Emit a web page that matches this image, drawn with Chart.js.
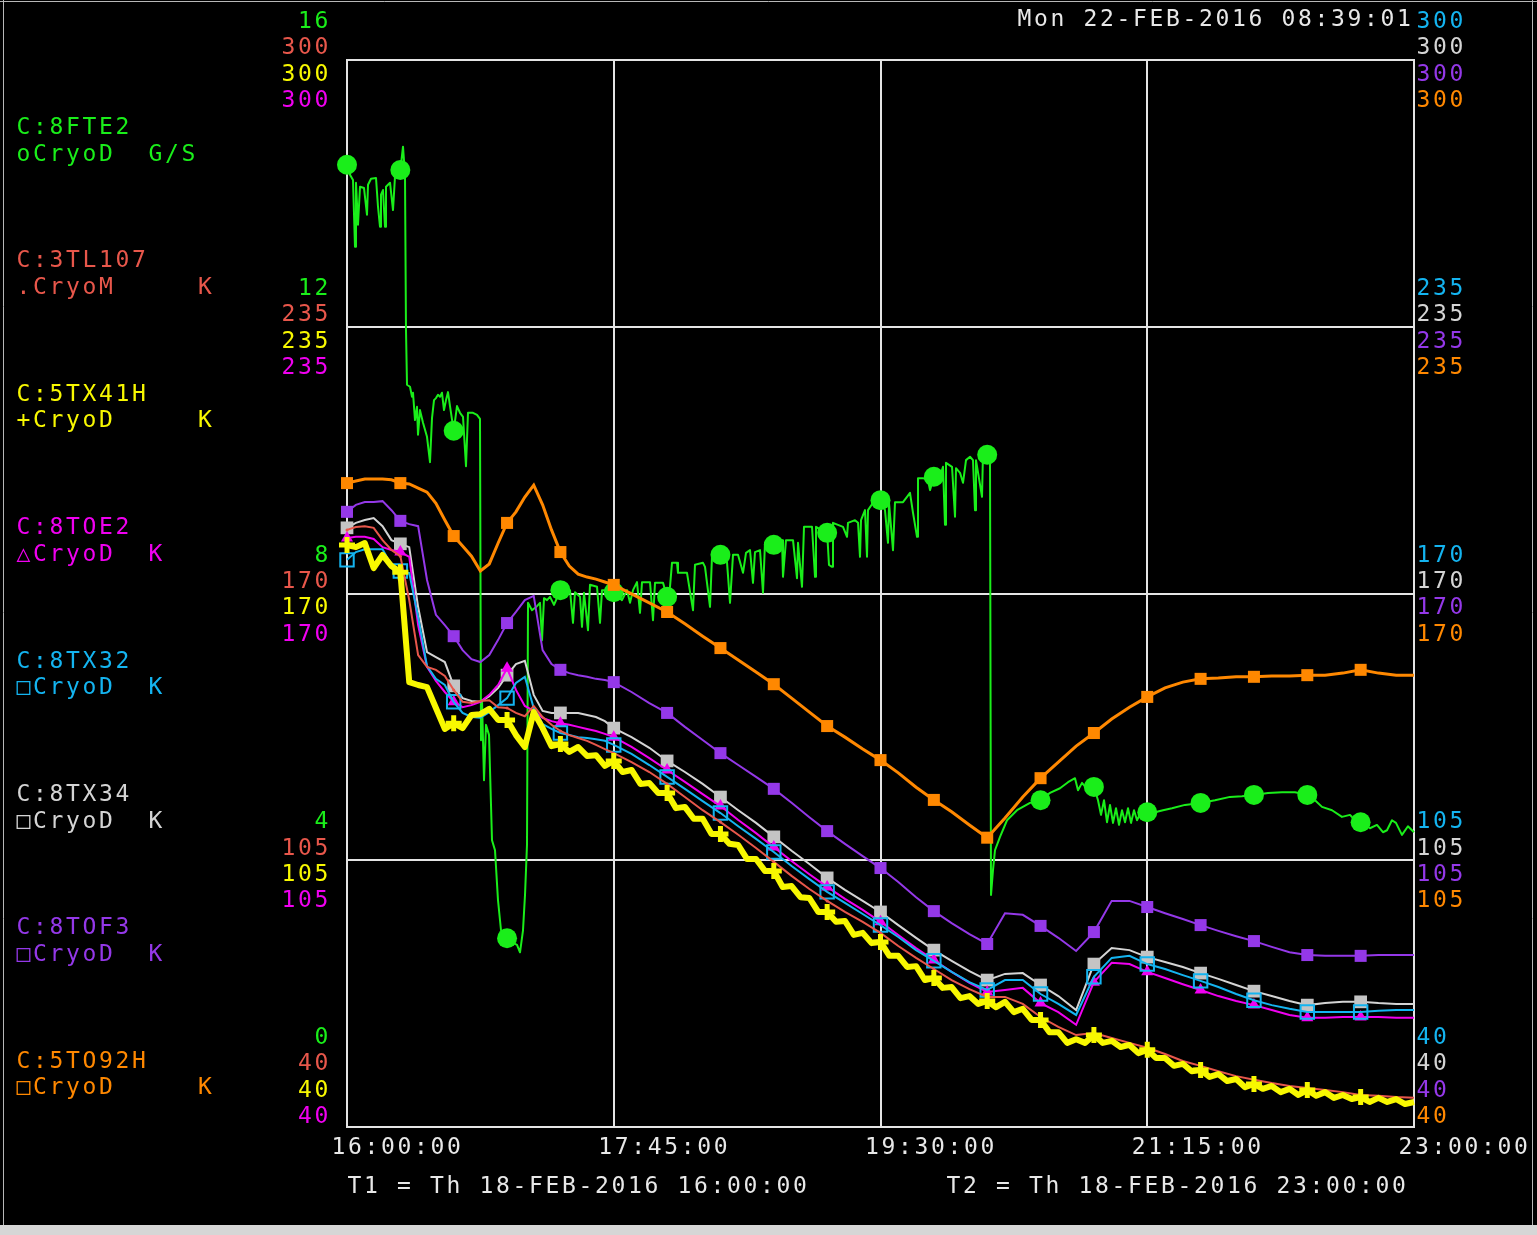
<!DOCTYPE html>
<html>
<head>
<meta charset="utf-8">
<title>CryoD plot 18-FEB-2016</title>
<script src="https://cdn.jsdelivr.net/npm/chart.js"></script>
<style>
  html, body { margin: 0; padding: 0; background: #000; }
  canvas { display: block; }
</style>
</head>
<body>
<canvas id="plot" width="1537" height="1235"></canvas>
<script>
// x axis = minutes after T1 (16:00:00)
const timeTicks = [0, 105, 210, 315, 420];
const timeLabels = ["16:00:00", "17:45:00", "19:30:00", "21:15:00", "23:00:00"];
const flowTicks = [0, 4, 8, 12, 16];
const tempTicks = [40, 105, 170, 235, 300];

const plotDate = "Mon 22-FEB-2016 08:39:01";
const t1Text = "T1 = Th 18-FEB-2016 16:00:00";
const t2Text = "T2 = Th 18-FEB-2016 23:00:00";

const channels = ["C:8FTE2", "C:3TL107", "C:5TX41H", "C:8TOE2", "C:8TX32", "C:8TX34", "C:8TOF3", "C:5TO92H"];
const channelInfo = ["oCryoD  G/S", ".CryoM     K", "+CryoD     K", "△CryoD  K", "□CryoD  K", "□CryoD  K", "□CryoD  K", "□CryoD     K"];
const colors = ["#1aee1a", "#e8574b", "#f8f800", "#f000f0", "#14b4f0", "#d4d4d4", "#9438e8", "#ff8800"];

// sample times (min) for the smooth temperature channels
const times = [0, 3.5, 7, 10.5, 14, 17.5, 21, 24.5, 28, 31.5, 35, 38.5, 42, 45.5, 49, 52.5, 56, 59.5, 63, 66.5,
  70, 73.5, 77, 80.5, 84, 87.5, 91, 94.5, 98, 101.5, 105,
  112, 119, 126, 133, 140, 147, 154, 161, 168, 175, 182, 189, 196, 203, 210, 217, 224, 231, 238,
  245, 252, 259, 266, 273, 280, 287, 294, 301, 308, 315, 322, 329, 336, 343, 350, 357, 364, 371, 378,
  385, 392, 399, 406, 413, 420];

// the noisy 5TX41H channel is read every 3.5 min
const fineTimes = [0, 3.5, 7, 10.5, 14, 17.5, 21, 24.5, 28, 31.5, 35, 38.5, 42, 45.5, 49, 52.5, 56, 59.5, 63, 66.5,
  70, 73.5, 77, 80.5, 84, 87.5, 91, 94.5, 98, 101.5, 105, 108.5, 112, 115.5, 119, 122.5, 126, 129.5, 133, 136.5,
  140, 143.5, 147, 150.5, 154, 157.5, 161, 164.5, 168, 171.5, 175, 178.5, 182, 185.5, 189, 192.5, 196, 199.5, 203, 206.5,
  210, 213.5, 217, 220.5, 224, 227.5, 231, 234.5, 238, 241.5, 245, 248.5, 252, 255.5, 259, 262.5, 266, 269.5, 273, 276.5,
  280, 283.5, 287, 290.5, 294, 297.5, 301, 304.5, 308, 311.5, 315, 318.5, 322, 325.5, 329, 332.5, 336, 339.5, 343, 346.5,
  350, 353.5, 357, 360.5, 364, 367.5, 371, 374.5, 378, 381.5, 385, 388.5, 392, 395.5, 399, 402.5, 406, 409.5, 413, 416.5, 420];

// C:8FTE2 flow, G/S  [minute, value]
const fte2 = [[0,14.43],[1.18,14.28],[2.36,14.20],[3.15,13.20],[3.54,14.16],[4.33,13.53],[5.12,14.10],[6.69,14.08],
  [7.87,13.68],[8.27,14.13],[9.45,14.22],[11.42,14.23],[12.20,13.80],[12.99,13.50],[13.38,13.98],[14.17,14.05],
  [14.96,13.50],[15.35,14.10],[16.93,14.16],[18.11,13.75],[18.89,14.25],[21,14.35],[22.04,14.70],[22.83,14.28],
  [23.22,11.95],[23.62,11.13],[24.80,11.10],[25.59,10.95],[25.98,11.01],[26.77,10.60],[27.55,10.80],[27.95,10.38],
  [28.73,10.75],[29.92,10.56],[31.49,10.35],[32.67,9.97],[33.46,10.63],[34.25,10.90],[35.03,10.93],[35.82,10.98],
  [36.61,10.95],[37.39,11.01],[38.18,10.75],[38.97,10.90],[39.76,11.02],[40.54,10.81],[42,10.44],[43.30,10.81],
  [44.48,10.71],[45.66,10.65],[46.84,9.91],[47.63,10.71],[49.60,10.71],[51.17,10.68],[52.35,10.62],[52.75,5.80],
  [53.14,6.40],[53.93,5.20],[54.71,6.03],[55.90,5.88],[57.08,4.30],[58.26,4.15],[59.44,3.40],[60.62,2.95],
  [63,2.83],[64.95,2.77],[66.92,2.73],[68.10,2.62],[69.28,2.95],[70.07,3.48],[70.85,4.23],[71.25,7.86],
  [72.82,7.75],[74.79,7.81],[75.97,7.86],[76.76,7.30],[77.55,7.93],[78.73,7.90],[79.91,7.95],[81.48,7.83],
  [84,8.05],[87.78,8.05],[88.96,7.56],[89.75,8.02],[91.72,7.95],[92.50,7.50],[93.29,8.01],[94.86,7.45],
  [95.65,8.13],[98.41,8.10],[99.59,7.56],[100.38,8.05],[103.52,8.05],[105,8.02],[108.25,7.90],[110.22,8.05],
  [111.40,7.86],[112.58,8.05],[114.15,8.17],[115.33,7.71],[116.12,8.17],[119.27,8.17],[120.45,7.60],[121.24,8.16],
  [124.39,8.16],[126,7.95],[127.14,8.10],[127.93,8.46],[129.90,8.46],[130.29,8.31],[133.83,8.31],[136.20,7.75],
  [136.98,8.43],[140.13,8.46],[140.92,8.40],[141.71,8.16],[142.89,7.80],[143.67,8.55],[147,8.58],[149.58,8.47],
  [150.76,7.86],[151.94,8.58],[153.91,8.58],[155.88,8.31],[157.06,8.61],[158.63,8.65],[159.81,8.16],[160.60,8.62],
  [162.57,8.65],[163.75,8.01],[164.54,8.76],[168,8.73],[171.23,8.80],[171.62,8.25],[172.80,8.80],[175.56,8.80],
  [177.13,8.23],[177.53,8.76],[179.10,8.10],[179.89,9.00],[183.04,9.00],[184.22,8.25],[184.61,9.00],[186.97,8.95],
  [189,8.91],[189.73,8.43],[190.91,8.40],[191.30,9.06],[195.24,9.00],[196.82,8.85],[197.21,9.06],[199.96,9.10],
  [201.15,9.06],[201.93,8.55],[202.33,9.10],[203.90,9.25],[204.69,8.55],[205.08,9.25],[207.05,9.36],[210,9.40],
  [211.77,9.25],[212.95,8.76],[213.35,9.36],[214.92,8.65],[215.71,9.37],[218.86,9.37],[220.43,9.45],[221.61,9.51],
  [222.80,9.21],[224.37,8.85],[224.76,9.73],[226.73,9.73],[228.70,9.70],[229.49,9.55],[231,9.75],[233.42,9.75],
  [234.60,9.90],[235.39,9.03],[235.78,9.96],[238.15,9.90],[239.33,9.15],[239.72,9.88],[241.30,9.81],[242.48,9.66],
  [243.66,10.00],[245.23,10.05],[246.41,10.00],[247.20,9.25],[247.59,10.00],[249.96,9.45],[250.35,10.11],[252,10.08],
  [253.10,10.08],[253.50,3.48],[254.28,3.85],[255.07,4.15],[257.04,4.35],[259.80,4.60],[263.73,4.75],[268.85,4.86],
  [273,4.90],[276.72,5.01],[280.66,5.08],[283.81,5.17],[286.56,5.23],[287.74,5.05],[289.32,5.16],[291.68,5.05],
  [294,5.10],[295.62,4.90],[296.80,4.68],[297.98,4.90],[299.16,4.57],[300.34,4.83],[301.52,4.56],[302.70,4.78],
  [303.88,4.53],[305.06,4.75],[306.25,4.57],[307.43,4.78],[308.61,4.56],[309.79,4.75],[310.97,4.60],[312.54,4.72],
  [315,4.72],[318.05,4.72],[321.20,4.75],[324.74,4.78],[329.86,4.83],[336,4.86],[341.67,4.90],[347.58,4.95],
  [352.30,4.96],[357,4.98],[362.53,5.01],[368.04,5.02],[373.16,5.02],[378,4.98],[381.03,4.90],[383.79,4.80],
  [387.73,4.75],[391.66,4.65],[394.81,4.68],[396.78,4.60],[399,4.57],[402.66,4.48],[405.42,4.53],[407.78,4.42],
  [409.36,4.45],[411.33,4.60],[412.90,4.56],[415.26,4.38],[417.62,4.51],[420,4.42]];

// temperatures, K (one value per entry of times)
const tl107 = [185.5,186.2,186.4,186.0,183.0,180.6,179.1,168.4,155.0,152.1,151.4,149.9,146.5,143.6,143.3,143.8,144.0,142.3,142.1,140.9,
  140.1,142.6,139.9,138.0,136.5,135.5,134.8,134.1,133.1,132.1,131.1,
  128.9,126.5,123.6,120.4,117.2,114.3,111.2,108.0,104.6,101.2,98.0,95.1,92.4,90.0,87.3,84.1,81.2,78.5,75.8,
  73.6,71.7,71.7,70.0,66.8,64.4,62.4,62.9,61.7,60.5,59.3,57.8,56.1,54.9,53.6,52.4,51.5,50.7,50.0,49.5,
  49.0,48.5,47.8,47.6,47.3,47.1];
// one value per entry of fineTimes
const tx41h = [181.8,181.3,182.3,176.2,179.4,176.7,175.2,148.4,147.7,147.2,142.1,137.0,138.4,137.2,140.4,140.6,141.9,139.2,139.2,135.5,
  132.6,141.1,137.2,132.8,133.3,131.4,132.6,130.4,130.6,128.0,129.2,
  126.5,127.0,123.6,123.8,121.4,121.4,117.7,118.0,115.1,115.1,111.4,111.4,109.0,108.7,105.3,105.3,102.4,102.4,98.5,
  98.7,96.0,95.8,92.4,92.4,90.0,90.2,86.8,87.3,84.8,85.1,81.7,81.7,79.0,79.2,75.8,76.3,73.9,74.1,71.4,
  71.9,70.0,70.7,69.2,70.5,68.0,68.8,66.1,66.1,63.1,63.1,60.5,61.4,60.5,62.4,60.5,61.0,59.5,60.0,58.0,
  58.8,56.8,56.8,54.9,55.4,53.6,53.9,52.2,52.9,51.2,51.7,49.7,50.5,49.3,50.0,48.5,49.3,47.8,49.0,47.6,
  48.5,47.1,47.8,46.8,47.3,46.1,47.1,46.1,46.8,45.6,46.1];
const toe2 = [183.5,183.8,183.8,183.3,181.3,180.6,180.1,178.9,162.3,152.1,148.7,146.0,143.6,142.3,142.8,143.6,145.3,147.7,151.8,146.5,
  142.6,141.4,139.7,138.9,138.4,138.0,137.5,137.0,136.5,135.8,135.0,
  132.6,129.9,127.0,124.1,121.1,118.2,114.8,111.6,108.2,104.8,101.6,98.5,95.6,92.9,90.0,86.8,83.6,80.7,77.8,
  75.1,72.9,73.4,73.9,70.2,68.0,64.9,75.3,80.0,79.7,77.8,76.3,74.8,73.4,71.9,70.7,69.7,68.5,67.3,66.6,
  66.6,66.8,66.8,66.8,66.6,66.6];
const tx32 = [178.2,180.1,180.8,180.8,180.8,176.9,175.5,175.0,164.3,152.3,149.2,147.7,143.6,140.9,139.9,139.7,141.1,142.8,144.5,148.2,
  149.7,142.1,138.2,137.0,136.0,135.5,135.0,134.8,134.5,134.1,133.1,
  130.9,128.2,125.3,122.4,119.4,116.5,113.3,110.2,107.0,103.6,100.4,97.3,94.6,91.9,89.2,86.3,83.1,80.5,77.8,
  75.3,73.4,75.8,75.8,72.4,70.0,67.3,76.6,81.2,81.7,79.7,78.5,77.0,75.6,74.1,72.4,70.9,69.7,68.8,68.0,
  68.0,68.0,68.0,68.3,68.5,68.5];
const tx34 = [186.0,187.2,187.9,188.4,186.4,183.0,182.1,181.3,166.7,155.7,154.5,153.3,147.5,144.5,143.8,143.6,145.0,147.0,150.1,152.8,
  153.6,145.3,141.4,140.9,140.9,140.9,140.9,140.4,139.9,138.9,137.2,
  135.0,132.4,129.2,126.5,123.6,120.4,117.2,114.1,110.7,107.3,104.1,100.7,97.8,95.1,92.4,89.2,86.1,83.1,80.5,
  78.0,75.8,77.3,77.5,74.6,71.9,68.5,79.7,83.6,83.1,81.4,80.2,79.0,77.5,76.1,74.6,73.1,71.9,70.7,69.7,
  70.2,70.5,70.5,70.2,70.0,70.0];
const tof3 = [189.9,191.6,192.3,192.3,192.5,190.3,187.7,186.9,186.4,173.3,164.8,162.3,159.6,156.2,154.0,153.3,155.0,158.7,162.8,165.5,
  168.4,169.4,156.2,152.8,151.4,150.6,150.1,149.7,149.2,148.9,148.4,
  146.0,143.3,140.9,137.5,134.3,131.1,128.2,125.3,122.4,119.0,115.5,112.1,109.0,106.0,103.1,99.7,96.0,92.6,89.7,
  87.0,84.6,92.1,91.7,89.0,86.1,82.9,87.5,95.1,95.1,93.6,92.1,90.7,89.2,87.8,86.5,85.3,83.9,82.6,81.9,
  81.7,81.7,81.7,81.9,81.9,81.9];
const to92h = [196.9,197.4,197.9,197.9,197.9,197.7,196.9,196.7,195.7,194.7,192.0,187.9,184.0,181.6,179.1,175.5,177.2,182.3,187.2,189.9,
  193.5,196.4,191.6,185.5,180.1,176.7,174.7,174.0,173.5,172.8,172.1,
  169.9,167.7,165.5,162.6,159.6,156.7,153.8,150.9,147.9,144.5,141.1,137.7,135.0,132.1,129.4,126.3,122.8,119.7,116.8,
  113.6,110.5,115.3,120.4,125.0,128.9,132.8,136.0,139.4,142.3,144.8,147.0,148.4,149.2,149.4,149.7,149.7,149.9,149.9,150.1,
  150.1,150.6,151.4,150.6,150.1,150.1];

function series(vals, ts = times) {
  return ts.map((t, i) => ({ x: t, y: vals[i] }));
}

// a marker every 21 minutes, like the console plot
function markerAt(r) {
  return ctx => (ctx.raw && ctx.raw.x % 21 === 0 && ctx.raw.x < 420) ? r : 0;
}

const PITCH = 16.5;
function setFont(c) {
  if ("letterSpacing" in c) {
    c.font = '23px "DejaVu Sans Mono", monospace';
    c.letterSpacing = "2.65px";
  } else {
    c.font = '27px "DejaVu Sans Mono", monospace';
  }
  c.textBaseline = "alphabetic";
  c.textAlign = "left";
}
function put(c, str, x, yc, color) {
  c.fillStyle = color;
  c.fillText(str, x, yc + 8);
}
function putRight(c, str, xr, yc, color) {
  put(c, str, xr - str.length * PITCH, yc, color);
}

const consolePlot = {
  id: "consolePlot",
  beforeDraw(chart) {
    const c = chart.ctx;
    c.save();
    c.fillStyle = "#000";
    c.fillRect(0, 0, chart.width, chart.height);
    c.fillStyle = "#d6d6d6";
    c.fillRect(0, 1225, chart.width, 10);
    c.strokeStyle = "#b8b8b8";
    c.lineWidth = 1;
    c.beginPath();
    c.moveTo(3.5, 0); c.lineTo(3.5, 1225);
    c.moveTo(0, 1.5); c.lineTo(chart.width, 1.5);
    c.moveTo(1532.5, 0); c.lineTo(1532.5, 1225);
    c.stroke();
    c.restore();
  },
  beforeDatasetsDraw(chart) {
    const c = chart.ctx;
    const { left, right, top, bottom } = chart.chartArea;
    const xs = chart.scales.x, yg = chart.scales.yG;
    c.save();
    c.strokeStyle = "#e4e4e4";
    c.lineWidth = 2;
    c.beginPath();
    timeTicks.forEach(t => {
      const x = Math.round(xs.getPixelForValue(t));
      c.moveTo(x, top - 1); c.lineTo(x, bottom + 1);
    });
    flowTicks.forEach(v => {
      const y = Math.round(yg.getPixelForValue(v));
      c.moveTo(left - 1, y); c.lineTo(right + 1, y);
    });
    c.stroke();
    c.restore();
  },
  afterDraw(chart) {
    const c = chart.ctx;
    const xs = chart.scales.x;
    c.save();
    setFont(c);

    const leftIds = ["yG", "yR", "yY", "yM"];
    const rightIds = ["yC", "yW", "yP", "yO"];
    tempTicks.forEach((tv, j) => {
      const shift = j === 0 ? -91 : -40;
      leftIds.forEach((id, r) => {
        const val = id === "yG" ? flowTicks[j] : tv;
        const y = chart.scales[id].getPixelForValue(val);
        putRight(c, String(val), 331, y + shift + r * 26.4, colors[r]);
      });
      rightIds.forEach((id, r) => {
        const y = chart.scales[id].getPixelForValue(tv);
        put(c, String(tv), 1416.5, y + shift + r * 26.4, colors[4 + r]);
      });
    });

    timeTicks.forEach((t, i) => {
      put(c, timeLabels[i], xs.getPixelForValue(t) - 15.5, 1146, "#e8e8e8");
    });
    put(c, t1Text, 347.5, 1185, "#e8e8e8");
    put(c, t2Text, 946.5, 1185, "#e8e8e8");
    put(c, plotDate, 1017.5, 18, "#e8e8e8");

    channels.forEach((name, i) => {
      const y = 126 + i * 133.4;
      put(c, name, 16.5, y, colors[i]);
      put(c, channelInfo[i], 16.5, y + 26.5, colors[i]);
    });
    c.restore();
  }
};

const tempScale = { type: "linear", min: 40, max: 300, display: false };

new Chart(document.getElementById("plot"), {
  type: "line",
  data: {
    datasets: [
      {
        label: channels[0], data: fte2.map(([x, y]) => ({ x, y })), yAxisID: "yG",
        borderColor: colors[0], borderWidth: 2, borderJoinStyle: "round",
        pointStyle: "circle", pointRadius: markerAt(10),
        pointBackgroundColor: colors[0], pointBorderColor: colors[0], pointBorderWidth: 0,
        order: 7
      },
      {
        label: channels[1], data: series(tl107), yAxisID: "yR",
        borderColor: colors[1], borderWidth: 2,
        pointStyle: "circle", pointRadius: markerAt(1.5),
        pointBackgroundColor: colors[1], pointBorderColor: colors[1], pointBorderWidth: 0,
        order: 2
      },
      {
        label: channels[2], data: series(tx41h, fineTimes), yAxisID: "yY",
        borderColor: colors[2], borderWidth: 6, borderJoinStyle: "round",
        pointStyle: "cross", pointRadius: markerAt(8),
        pointBackgroundColor: colors[2], pointBorderColor: colors[2], pointBorderWidth: 5,
        order: 1
      },
      {
        label: channels[3], data: series(toe2), yAxisID: "yM",
        borderColor: colors[3], borderWidth: 2,
        pointStyle: "triangle", pointRadius: markerAt(7),
        pointBackgroundColor: colors[3], pointBorderColor: colors[3], pointBorderWidth: 0,
        order: 4
      },
      {
        label: channels[4], data: series(tx32), yAxisID: "yC",
        borderColor: colors[4], borderWidth: 2,
        pointStyle: "rect", pointRadius: markerAt(9.5),
        pointBackgroundColor: "rgba(0,0,0,0)", pointBorderColor: colors[4], pointBorderWidth: 2,
        order: 3
      },
      {
        label: channels[5], data: series(tx34), yAxisID: "yW",
        borderColor: colors[5], borderWidth: 2,
        pointStyle: "rect", pointRadius: markerAt(9),
        pointBackgroundColor: "#c4c4c4", pointBorderColor: "#c4c4c4", pointBorderWidth: 0,
        order: 5
      },
      {
        label: channels[6], data: series(tof3), yAxisID: "yP",
        borderColor: colors[6], borderWidth: 2,
        pointStyle: "rect", pointRadius: markerAt(8.5),
        pointBackgroundColor: colors[6], pointBorderColor: colors[6], pointBorderWidth: 0,
        order: 6
      },
      {
        label: channels[7], data: series(to92h), yAxisID: "yO",
        borderColor: colors[7], borderWidth: 3,
        pointStyle: "rect", pointRadius: markerAt(8.5),
        pointBackgroundColor: colors[7], pointBorderColor: colors[7], pointBorderWidth: 0,
        order: 0
      }
    ]
  },
  options: {
    responsive: false,
    animation: false,
    devicePixelRatio: 1,
    events: [],
    clip: false,
    layout: { padding: { left: 347, top: 60, right: 123, bottom: 108 } },
    elements: { line: { tension: 0, fill: false }, point: { hoverRadius: 0 } },
    plugins: { legend: { display: false }, tooltip: { enabled: false } },
    scales: {
      x: { type: "linear", min: 0, max: 420, display: false },
      yG: { type: "linear", position: "left", min: 0, max: 16, display: false },
      yR: { ...tempScale, position: "left" },
      yY: { ...tempScale, position: "left" },
      yM: { ...tempScale, position: "left" },
      yC: { ...tempScale, position: "right" },
      yW: { ...tempScale, position: "right" },
      yP: { ...tempScale, position: "right" },
      yO: { ...tempScale, position: "right" }
    }
  },
  plugins: [consolePlot]
});
</script>
</body>
</html>
